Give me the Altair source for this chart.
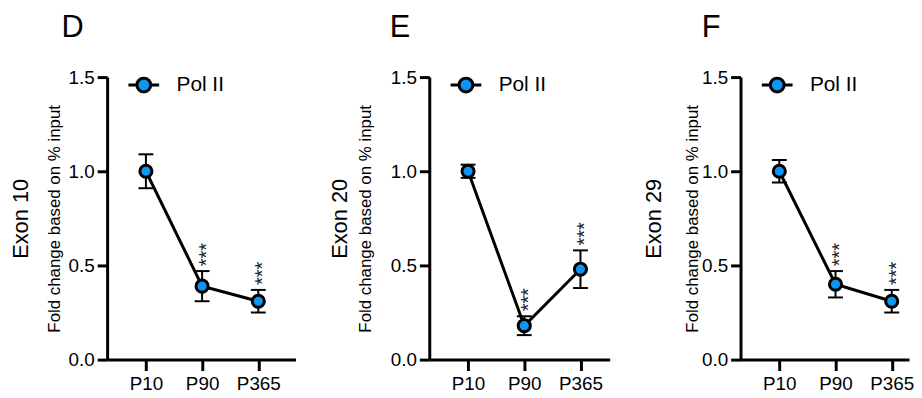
import altair as alt
import pandas as pd

# ---- data ----
categories = ["P10", "P90", "P365"]
panel_letters = ["D", "E", "F"]
exon_labels = ["Exon 10", "Exon 20", "Exon 29"]
series_name = "Pol II"

mean_d = [1.00, 0.39, 0.31]
err_d = [0.09, 0.08, 0.06]
mean_e = [1.00, 0.18, 0.48]
err_e = [0.035, 0.05, 0.10]
mean_f = [1.00, 0.40, 0.31]
err_f = [0.06, 0.07, 0.06]
stars_d = ["", "***", "***"]
stars_e = ["", "***", "***"]
stars_f = ["", "***", "***"]

FONT = "Liberation Sans"
BLUE = "#0F94F2"
STEP = 56.7          # px between categories
LEFT_PAD = 0.69      # categories units between y axis and first category

SYMBOL = ("M-1,0H-0.45M0.45,0H1M-0.45,0A0.45,0.45,0,1,1,0.45,0"
          "A0.45,0.45,0,1,1,-0.45,0Z")


def panel(letter, exon, means, errs, stars, width, fold_pad, exon_pad, title_dx):
    df = pd.DataFrame({
        "idx": list(range(len(categories))),
        "cat": categories,
        "mean": means,
        "lo": [m - e for m, e in zip(means, errs)],
        "hi": [m + e for m, e in zip(means, errs)],
        "stars": stars,
        "series": [series_name] * len(categories),
    })
    xmax = -LEFT_PAD + width / STEP
    xscale = alt.Scale(domain=[-LEFT_PAD, xmax], nice=False, zero=False)
    xaxis = alt.Axis(values=list(range(len(categories))),
                     labelExpr=f"{categories}[datum.value]",
                     title=None, labelFontSize=19, labelPadding=4,
                     tickSize=11, tickWidth=3, domainWidth=3,
                     labelFlush=False, grid=False)
    X = alt.X("idx:Q", scale=xscale, axis=xaxis)
    yscale = alt.Scale(domain=[0, 1.5], nice=False)
    yaxis = alt.Axis(values=[0, 0.5, 1.0, 1.5], format=".1f",
                     title="Fold change based on % input", titleFontSize=17,
                     titlePadding=fold_pad, labelFontSize=19, labelPadding=3,
                     tickSize=10, tickWidth=3, domainWidth=3, grid=False,
                     orient="left")
    exon_axis = alt.Axis(orient="left", title=exon, titleFontSize=22,
                         labels=False, ticks=False, domain=False, grid=False,
                         titlePadding=exon_pad)

    base = alt.Chart(df)
    line = base.mark_line(color="black", strokeWidth=3).encode(
        x=X, y=alt.Y("mean:Q", scale=yscale, axis=yaxis))
    rule = base.mark_rule(color="black", strokeWidth=2).encode(
        x=X, y=alt.Y("lo:Q", scale=yscale, axis=None), y2="hi:Q")
    cap_lo = base.mark_tick(orient="horizontal", size=15, thickness=2,
                            color="black", opacity=1).encode(
        x=X, y=alt.Y("lo:Q", scale=yscale, axis=None))
    cap_hi = base.mark_tick(orient="horizontal", size=15, thickness=2,
                            color="black", opacity=1).encode(
        x=X, y=alt.Y("hi:Q", scale=yscale, axis=None))
    points = base.mark_point(filled=True, size=150, stroke="black",
                             strokeWidth=3, opacity=1).encode(
        x=X,
        y=alt.Y("mean:Q", scale=yscale, axis=exon_axis),
        fill=alt.Fill("series:N", scale=alt.Scale(range=[BLUE]),
                      legend=alt.Legend(title=None, orient="none",
                                        legendX=20, legendY=-9,
                                        symbolType=SYMBOL, symbolSize=961,
                                        symbolStrokeWidth=3,
                                        symbolStrokeColor="black",
                                        labelFontSize=21, labelFont=FONT,
                                        labelColor="black", labelOffset=16,
                                        padding=0)),
    )
    star_text = base.transform_filter("datum.stars != ''").mark_text(
        angle=270, align="left", baseline="middle", dx=5, dy=5,
        fontSize=20, font=FONT, color="#222222").encode(
        x=X, y=alt.Y("hi:Q", scale=yscale, axis=None), text="stars:N")

    return alt.layer(line, rule, cap_lo, cap_hi, points, star_text).resolve_axis(
        y="independent").properties(
        width=width, height=285,
        title=alt.TitleParams(letter, anchor="start", frame="group", dx=title_dx,
                              fontSize=31, font=FONT,
                              fontWeight="normal", color="black", offset=24))


chart = alt.hconcat(
    panel(panel_letters[0], exon_labels[0], mean_d, err_d, stars_d, 190, 5, 75, -46),
    panel(panel_letters[1], exon_labels[1], mean_e, err_e, stars_e, 182, 16, 79, -40),
    panel(panel_letters[2], exon_labels[2], mean_f, err_f, stars_f, 170, 0, 76, -39),
    spacing=33,
).resolve_scale(fill="independent").resolve_legend(fill="independent").properties(
    padding={"left": 2, "top": 3, "right": 0, "bottom": 0}
).configure_view(stroke=None).configure_axis(
    labelFont=FONT, titleFont=FONT, titleFontWeight="normal",
    labelColor="black", titleColor="black", domainColor="black",
    tickColor="black")

chart.save("out.html", embed_options={"renderer": "svg", "actions": False})
